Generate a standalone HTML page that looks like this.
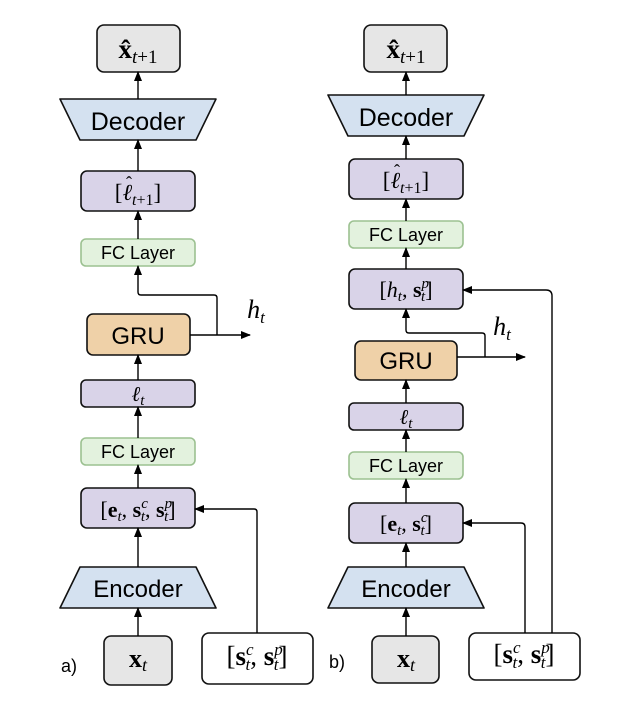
<!DOCTYPE html>
<html><head><meta charset="utf-8"><style>
body{margin:0;background:#fff}
svg text{font-family:"Liberation Sans",sans-serif}
.m{font-family:"Liberation Serif",serif;font-style:italic}
.b{font-family:"Liberation Serif",serif;font-weight:bold}
.r{font-family:"Liberation Serif",serif}
</style></head><body>
<svg width="623" height="709" viewBox="0 0 623 709" xmlns="http://www.w3.org/2000/svg">
<defs><marker id="a" markerWidth="10" markerHeight="10" refX="9" refY="5" orient="auto" markerUnits="userSpaceOnUse"><path d="M0,1 L10,5 L0,9 z" fill="#000"/></marker></defs>
<g stroke="#111" stroke-width="1.6">
<rect x="97" y="25" width="83" height="47" rx="7" fill="#e6e6e6"/>
<path d="M60,99 L216,99 L196,140 L80,140 Z" fill="#d4e1f0" stroke-linejoin="round"/>
<rect x="81" y="171" width="114" height="40" rx="6" fill="#d9d3e8"/>
<rect x="81" y="239" width="114" height="27" rx="5" fill="#e3f2de" stroke="#9cc191"/>
<rect x="87" y="314" width="103" height="41" rx="6" fill="#efd1a8"/>
<rect x="81" y="380" width="114" height="27" rx="5" fill="#d9d3e8"/>
<rect x="81" y="438" width="114" height="27" rx="5" fill="#e3f2de" stroke="#9cc191"/>
<rect x="81" y="488" width="114" height="40" rx="6" fill="#d9d3e8"/>
<path d="M80,567 L196,567 L216,608 L60,608 Z" fill="#d4e1f0" stroke-linejoin="round"/>
<rect x="104" y="636" width="68" height="49" rx="7" fill="#e6e6e6"/>
<rect x="202" y="633" width="111" height="51" rx="7" fill="#fff"/>
<rect x="364" y="25" width="83" height="47" rx="7" fill="#e6e6e6"/>
<path d="M328,95 L484,95 L464,136 L348,136 Z" fill="#d4e1f0" stroke-linejoin="round"/>
<rect x="349" y="159" width="114" height="40" rx="6" fill="#d9d3e8"/>
<rect x="349" y="221" width="114" height="27" rx="5" fill="#e3f2de" stroke="#9cc191"/>
<rect x="349" y="269" width="114" height="40" rx="6" fill="#d9d3e8"/>
<rect x="355" y="341" width="102" height="39" rx="6" fill="#efd1a8"/>
<rect x="349" y="403" width="114" height="27" rx="5" fill="#d9d3e8"/>
<rect x="349" y="452" width="114" height="27" rx="5" fill="#e3f2de" stroke="#9cc191"/>
<rect x="349" y="503" width="114" height="40" rx="6" fill="#d9d3e8"/>
<path d="M348,567 L464,567 L484,608 L328,608 Z" fill="#d4e1f0" stroke-linejoin="round"/>
<rect x="372" y="636" width="67" height="47" rx="7" fill="#e6e6e6"/>
<rect x="469" y="633" width="111" height="47" rx="7" fill="#fff"/>
</g>
<g stroke="#000" stroke-width="1.4" fill="none" marker-end="url(#a)">
<line x1="138" y1="99" x2="138" y2="72"/>
<line x1="138" y1="171" x2="138" y2="140"/>
<line x1="138" y1="239" x2="138" y2="211"/>
<path d="M217,335 L217,298 Q217,295 214,295 L141,295 Q138,295 138,292 L138,266"/>
<line x1="190" y1="335" x2="250" y2="335"/>
<line x1="138" y1="380" x2="138" y2="355"/>
<line x1="138" y1="438" x2="138" y2="407"/>
<line x1="138" y1="488" x2="138" y2="465"/>
<line x1="138" y1="567" x2="138" y2="528"/>
<line x1="138" y1="636" x2="138" y2="608"/>
<path d="M257,633 L257,512 Q257,509 254,509 L195,509"/>
<line x1="406" y1="95" x2="406" y2="72"/>
<line x1="406" y1="159" x2="406" y2="136"/>
<line x1="406" y1="221" x2="406" y2="199"/>
<line x1="406" y1="269" x2="406" y2="248"/>
<path d="M485,357 L485,336 Q485,333 482,333 L409,333 Q406,333 406,330 L406,309"/>
<line x1="457" y1="357" x2="525" y2="357"/>
<line x1="406" y1="403" x2="406" y2="380"/>
<line x1="406" y1="452" x2="406" y2="430"/>
<line x1="406" y1="503" x2="406" y2="479"/>
<line x1="406" y1="567" x2="406" y2="543"/>
<line x1="406" y1="636" x2="406" y2="608"/>
<path d="M525,633 L525,527 Q525,523 521,523 L463,523"/>
<path d="M552,633 L552,296 Q552,290 546,290 L463,290"/>
</g>
<g fill="#000" text-anchor="middle">
<text x="138" y="58" font-size="27"><tspan class="b">x̂</tspan><tspan class="m" font-size="19" dy="5">t</tspan><tspan class="r" font-size="19">+1</tspan></text>
<text x="138" y="130" font-size="25">Decoder</text>
<text x="138" y="200" font-size="23" class="r">[<tspan class="m">ℓ</tspan><tspan class="m" font-size="16" dy="5">t</tspan><tspan font-size="16">+1</tspan><tspan dy="-5">]</tspan></text>
<text x="129" y="189" font-size="18" class="r">ˆ</text>
<text x="138" y="259" font-size="18">FC Layer</text>
<text x="138" y="344" font-size="24">GRU</text>
<text x="256" y="318" font-size="26" class="m">h<tspan font-size="17" dy="5">t</tspan></text>
<text x="138" y="401" font-size="21" class="m">ℓ<tspan font-size="15" dy="4">t</tspan></text>
<text x="138" y="458" font-size="18">FC Layer</text>
<text x="138" y="517" font-size="22" class="r">[<tspan class="b">e</tspan><tspan class="m" font-size="15" dy="4">t</tspan><tspan dy="-4">, </tspan><tspan class="b">s</tspan><tspan class="m" font-size="15" dy="-9">c</tspan><tspan class="m" font-size="15" dx="-7" dy="13">t</tspan><tspan dy="-4">, </tspan><tspan class="b">s</tspan><tspan class="m" font-size="15" dy="-9">p</tspan><tspan class="m" font-size="15" dx="-8" dy="13">t</tspan><tspan dy="-4">]</tspan></text>
<text x="138" y="597" font-size="24">Encoder</text>
<text x="138" y="667" font-size="26"><tspan class="b">x</tspan><tspan class="m" font-size="18" dy="4">t</tspan></text>
<text x="257" y="665" font-size="27" class="r">[<tspan class="b">s</tspan><tspan class="m" font-size="17" dy="-10">c</tspan><tspan class="m" font-size="17" dx="-8" dy="15">t</tspan><tspan dy="-5">, </tspan><tspan class="b">s</tspan><tspan class="m" font-size="17" dy="-10">p</tspan><tspan class="m" font-size="17" dx="-9" dy="15">t</tspan><tspan dy="-5">]</tspan></text>
<text x="69" y="672" font-size="18">a)</text>
<text x="406" y="58" font-size="27"><tspan class="b">x̂</tspan><tspan class="m" font-size="19" dy="5">t</tspan><tspan class="r" font-size="19">+1</tspan></text>
<text x="406" y="126" font-size="25">Decoder</text>
<text x="406" y="188" font-size="23" class="r">[<tspan class="m">ℓ</tspan><tspan class="m" font-size="16" dy="5">t</tspan><tspan font-size="16">+1</tspan><tspan dy="-5">]</tspan></text>
<text x="397" y="177" font-size="18" class="r">ˆ</text>
<text x="406" y="241" font-size="18">FC Layer</text>
<text x="406" y="297" font-size="22" class="r">[<tspan class="m">h</tspan><tspan class="m" font-size="15" dy="4">t</tspan><tspan dy="-4">, </tspan><tspan class="b">s</tspan><tspan class="m" font-size="15" dy="-9">p</tspan><tspan class="m" font-size="15" dx="-8" dy="13">t</tspan><tspan dy="-4">]</tspan></text>
<text x="406" y="369" font-size="24">GRU</text>
<text x="502" y="335" font-size="26" class="m">h<tspan font-size="17" dy="5">t</tspan></text>
<text x="406" y="424" font-size="21" class="m">ℓ<tspan font-size="15" dy="4">t</tspan></text>
<text x="406" y="472" font-size="18">FC Layer</text>
<text x="406" y="531" font-size="22" class="r">[<tspan class="b">e</tspan><tspan class="m" font-size="15" dy="4">t</tspan><tspan dy="-4">, </tspan><tspan class="b">s</tspan><tspan class="m" font-size="15" dy="-9">c</tspan><tspan class="m" font-size="15" dx="-7" dy="13">t</tspan><tspan dy="-4">]</tspan></text>
<text x="406" y="597" font-size="24">Encoder</text>
<text x="406" y="667" font-size="26"><tspan class="b">x</tspan><tspan class="m" font-size="18" dy="4">t</tspan></text>
<text x="524" y="663" font-size="27" class="r">[<tspan class="b">s</tspan><tspan class="m" font-size="17" dy="-10">c</tspan><tspan class="m" font-size="17" dx="-8" dy="15">t</tspan><tspan dy="-5">, </tspan><tspan class="b">s</tspan><tspan class="m" font-size="17" dy="-10">p</tspan><tspan class="m" font-size="17" dx="-9" dy="15">t</tspan><tspan dy="-5">]</tspan></text>
<text x="337" y="668" font-size="18">b)</text>
</g>
</svg>
</body></html>
